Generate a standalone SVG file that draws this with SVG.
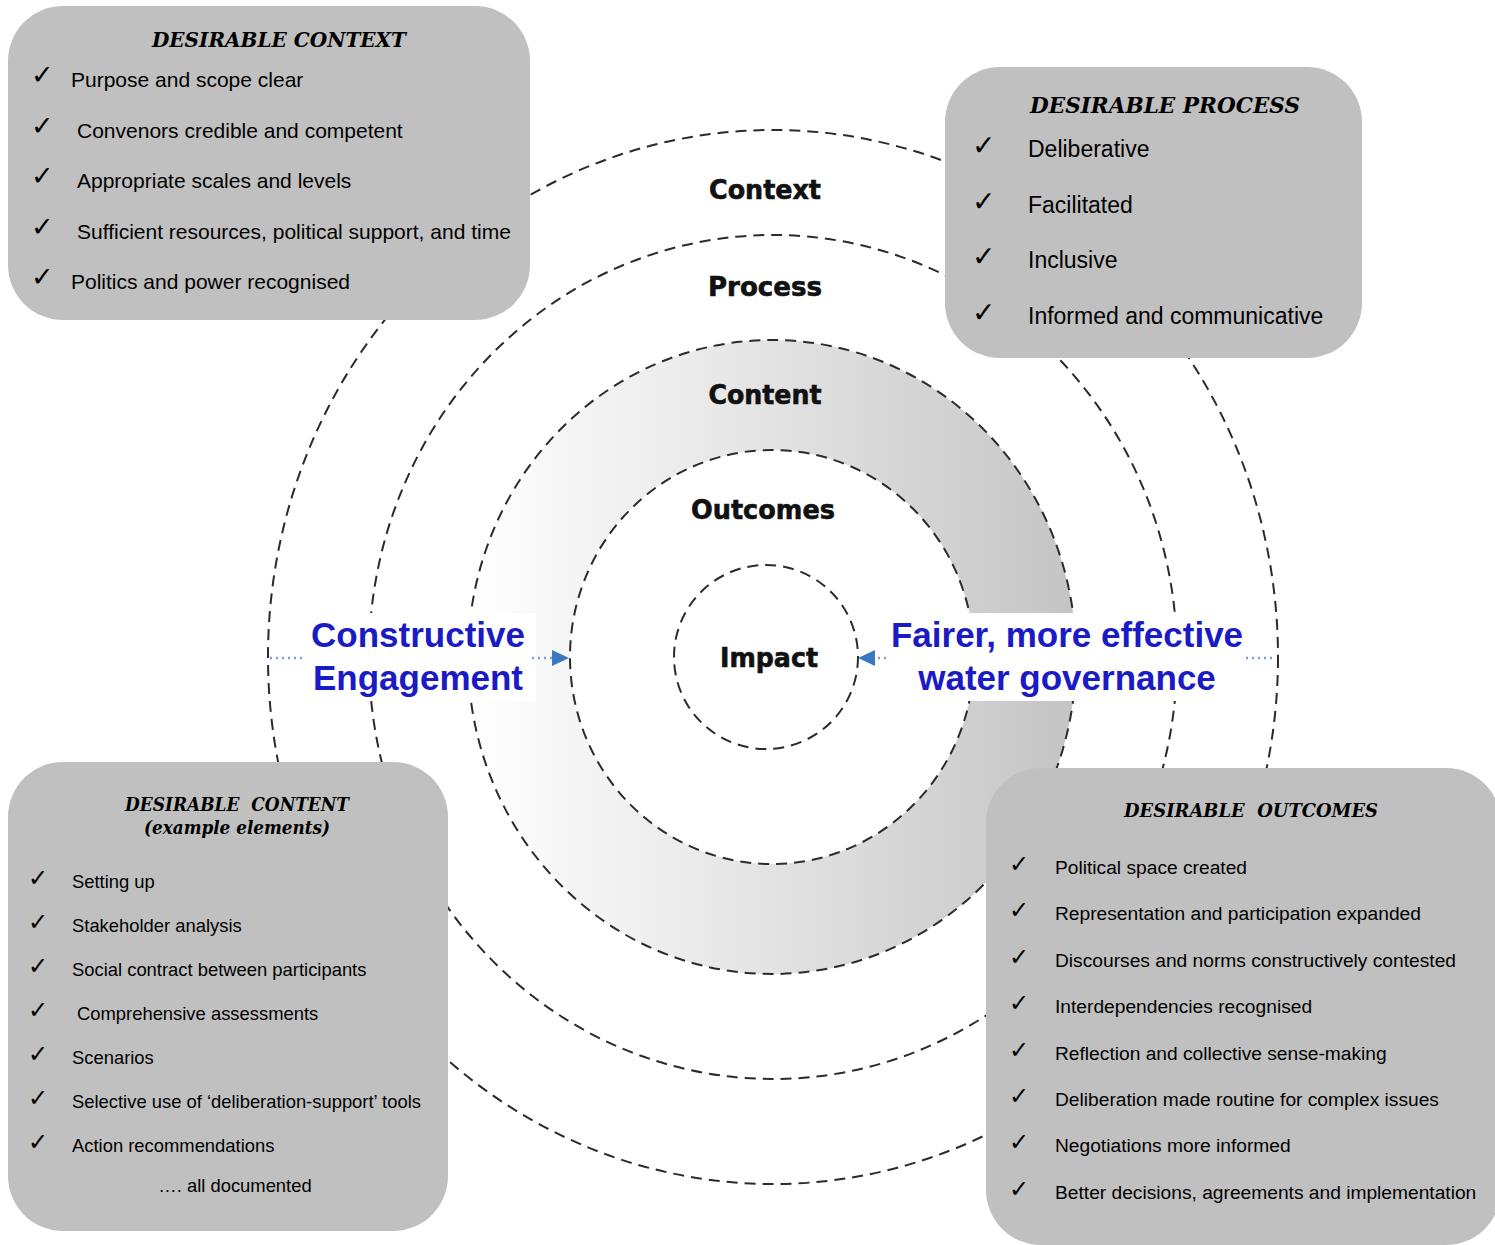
<svg xmlns="http://www.w3.org/2000/svg" width="1495" height="1245" viewBox="0 0 1495 1245">
<style>
.ring{fill:none;stroke:#2b2b2b;stroke-width:2;stroke-dasharray:11 7}
.lbl{font-family:"DejaVu Sans",sans-serif;font-weight:bold;font-size:26px;fill:#111;text-anchor:middle;stroke:#111;stroke-width:0.6}
.blue{font-family:"Liberation Sans",Arial,sans-serif;font-weight:bold;font-size:35px;fill:#1b1bc6;text-anchor:middle}
.box{fill:#c0c0c0}
.hd{font-family:"DejaVu Serif","Liberation Serif",serif;font-weight:bold;font-style:italic;fill:#000;text-anchor:middle}
.it{font-family:"Liberation Sans",Arial,sans-serif;fill:#000}
.ck{font-family:"DejaVu Sans",sans-serif;fill:#000}
.dot{stroke:#7f9fcf;stroke-width:2.5;stroke-dasharray:2 4;fill:none}
.arr{fill:#3a78c2}
</style>
<defs>
<linearGradient id="band" x1="0" y1="0" x2="1" y2="0">
<stop offset="0" stop-color="#ffffff"/>
<stop offset="0.45" stop-color="#e6e6e6"/>
<stop offset="1" stop-color="#c4c4c4"/>
</linearGradient>
</defs>
<rect width="1495" height="1245" fill="#fff"/>
<g id="rings">
<ellipse cx="772" cy="657" rx="304" ry="317" fill="url(#band)"/>
<ellipse cx="772" cy="657" rx="202" ry="207" fill="#fff"/>
<ellipse class="ring" cx="773" cy="657" rx="505" ry="527"/>
<ellipse class="ring" cx="773" cy="657" rx="404" ry="422"/>
<ellipse class="ring" cx="772" cy="657" rx="304" ry="317"/>
<ellipse class="ring" cx="772" cy="657" rx="202" ry="207"/>
<ellipse class="ring" cx="766" cy="657" rx="92" ry="92"/>
</g>
<g id="ring-labels">
<text class="lbl" x="765" y="199" textLength="112" lengthAdjust="spacingAndGlyphs">Context</text>
<text class="lbl" x="765" y="296" textLength="114" lengthAdjust="spacingAndGlyphs">Process</text>
<text class="lbl" x="765" y="404" textLength="113" lengthAdjust="spacingAndGlyphs">Content</text>
<text class="lbl" x="763" y="519" textLength="144" lengthAdjust="spacingAndGlyphs">Outcomes</text>
<text class="lbl" x="769" y="667" textLength="98" lengthAdjust="spacingAndGlyphs">Impact</text>
</g>
<g id="connectors">
<rect x="300" y="613" width="236" height="88" fill="#fff"/>
<rect x="880" y="613" width="376" height="88" fill="#fff"/>
<line class="dot" x1="270" y1="658" x2="306" y2="658"/>
<line class="dot" x1="532" y1="658" x2="552" y2="658"/>
<polygon class="arr" points="552,650 569,658 552,666"/>
<polygon class="arr" points="875,650 858,658 875,666"/>
<line class="dot" x1="878" y1="658" x2="886" y2="658"/>
<line class="dot" x1="1246" y1="658" x2="1276" y2="658"/>
</g>
<g id="engagement">
<text class="blue" x="418" y="647">Constructive</text>
<text class="blue" x="418" y="690">Engagement</text>
</g>
<g id="governance">
<text class="blue" x="1067" y="647">Fairer, more effective</text>
<text class="blue" x="1067" y="690">water governance</text>
</g>
<g id="desirable-context">
<rect class="box" x="8" y="6" width="522" height="314" rx="55"/>
<text class="hd" x="279" y="47" font-size="20" textLength="254" lengthAdjust="spacingAndGlyphs">DESIRABLE CONTEXT</text>
<g class="ck" font-size="27">
<text x="31" y="84">✓</text><text x="31" y="135">✓</text><text x="31" y="185">✓</text><text x="31" y="236">✓</text><text x="31" y="286">✓</text>
</g>
<g class="it" font-size="21">
<text x="71" y="87">Purpose and scope clear</text>
<text x="77" y="138">Convenors credible and competent</text>
<text x="77" y="188">Appropriate scales and levels</text>
<text x="77" y="239">Sufficient resources, political support, and time</text>
<text x="71" y="289">Politics and power recognised</text>
</g>
</g>
<g id="desirable-process">
<rect class="box" x="945" y="67" width="417" height="291" rx="55"/>
<text class="hd" x="1165" y="113" font-size="22" textLength="270" lengthAdjust="spacingAndGlyphs">DESIRABLE PROCESS</text>
<g class="ck" font-size="28">
<text x="972" y="155">✓</text><text x="972" y="211">✓</text><text x="972" y="266">✓</text><text x="972" y="322">✓</text>
</g>
<g class="it" font-size="23">
<text x="1028" y="157">Deliberative</text>
<text x="1028" y="213">Facilitated</text>
<text x="1028" y="268">Inclusive</text>
<text x="1028" y="324">Informed and communicative</text>
</g>
</g>
<g id="desirable-content">
<rect class="box" x="8" y="762" width="440" height="469" rx="55"/>
<text class="hd" x="237" y="811" font-size="18" textLength="224" lengthAdjust="spacingAndGlyphs" xml:space="preserve">DESIRABLE  CONTENT</text>
<text class="hd" x="237" y="834" font-size="18" textLength="186" lengthAdjust="spacingAndGlyphs">(example elements)</text>
<g class="ck" font-size="24">
<text x="28" y="886">✓</text><text x="28" y="930">✓</text><text x="28" y="974">✓</text><text x="28" y="1018">✓</text><text x="28" y="1062">✓</text><text x="28" y="1106">✓</text><text x="28" y="1150">✓</text>
</g>
<g class="it" font-size="18.4">
<text x="72" y="888">Setting up</text>
<text x="72" y="932">Stakeholder analysis</text>
<text x="72" y="976">Social contract between participants</text>
<text x="77" y="1020">Comprehensive assessments</text>
<text x="72" y="1064">Scenarios</text>
<text x="72" y="1108">Selective use of ‘deliberation-support’ tools</text>
<text x="72" y="1152">Action recommendations</text>
<text x="235" y="1192" text-anchor="middle">…. all documented</text>
</g>
</g>
<g id="desirable-outcomes">
<rect class="box" x="986" y="768" width="515" height="477" rx="55"/>
<text class="hd" x="1251" y="817" font-size="18" textLength="254" lengthAdjust="spacingAndGlyphs" xml:space="preserve">DESIRABLE  OUTCOMES</text>
<g class="ck" font-size="24">
<text x="1009" y="872">✓</text><text x="1009" y="918">✓</text><text x="1009" y="965">✓</text><text x="1009" y="1011">✓</text><text x="1009" y="1058">✓</text><text x="1009" y="1104">✓</text><text x="1009" y="1150">✓</text><text x="1009" y="1197">✓</text>
</g>
<g class="it" font-size="19.2">
<text x="1055" y="874">Political space created</text>
<text x="1055" y="920">Representation and participation expanded</text>
<text x="1055" y="967">Discourses and norms constructively contested</text>
<text x="1055" y="1013">Interdependencies recognised</text>
<text x="1055" y="1060">Reflection and collective sense-making</text>
<text x="1055" y="1106">Deliberation made routine for complex issues</text>
<text x="1055" y="1152">Negotiations more informed</text>
<text x="1055" y="1199">Better decisions, agreements and implementation</text>
</g>
</g>
</svg>
